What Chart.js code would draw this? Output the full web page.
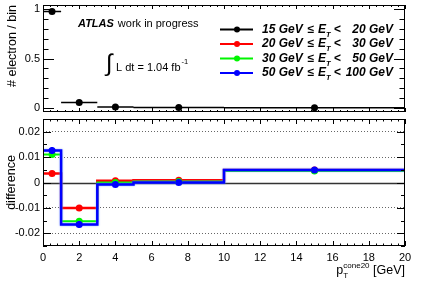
<!DOCTYPE html>
<html>
<head>
<meta charset="utf-8">
<title>isolation p_T^cone20 per E_T bin</title>
<script src="https://cdn.jsdelivr.net/npm/chart.js@4.4.1/dist/chart.umd.min.js"></script>
<style>
  body { margin: 0; background: #fff; }
  #wrap { position: relative; width: 427px; height: 290px; }
  canvas { position: absolute; left: 0; }
  #topChart { top: 0; }
  #bottomChart { top: 115px; }
</style>
</head>
<body>
<div id="wrap">
  <canvas id="topChart" width="427" height="116"></canvas>
  <canvas id="bottomChart" width="427" height="175"></canvas>
</div>

<script>
const FONT = "'Liberation Sans', Arial, Helvetica, sans-serif";

// p_T^cone20 bins [GeV]
const binEdges = [0, 1, 3, 5, 10, 20];
const binCenters = [0.5, 2, 4, 7.5, 15];

// top pad: # electron / bin for 15 <= E_T < 20 GeV
const frac15 = [0.975, 0.056, 0.010, 0.005, 0.003];

// bottom pad: difference with respect to the 15-20 GeV bin
const diff20 = [0.0035, -0.0100, 0.0007, 0.0009, 0.0049];
const diff30 = [0.0110, -0.0153, 0.0000, 0.0004, 0.0045];
const diff50 = [0.0126, -0.0165, -0.0008, 0.0000, 0.0049];
const err20 = [0.0010, 0.0010, 0.0004, 0.0003, 0.0002];
const err30 = [0.0010, 0.0012, 0.0004, 0.0003, 0.0002];
const err50 = [0.0014, 0.0013, 0.0004, 0.0003, 0.0002];

// axis labels
const xTicks = [0, 2, 4, 6, 8, 10, 12, 14, 16, 18, 20];
const yTopTicks = [0, 0.5, 1];
const yBottomTicks = [-0.02, -0.01, 0, 0.01, 0.02];

// legend entries: "<from> <= E_T < <to>"
const legendFrom = ['15 GeV', '20 GeV', '30 GeV', '50 GeV'];
const legendTo = ['20 GeV', '30 GeV', '50 GeV', '100 GeV'];

const COLORS = ['#000000', 'rgb(255,0,0)', 'rgb(0,245,0)', 'rgb(0,0,255)'];

// ---- helpers turning bin values into point lists ----
function histSteps(vals) {
  const pts = vals.map((v, i) => ({x: binEdges[i], y: v}));
  pts.push({x: binEdges[binEdges.length - 1], y: vals[vals.length - 1]});
  return pts;
}
function xBars(vals) {
  const pts = [];
  vals.forEach((v, i) => {
    pts.push({x: binEdges[i], y: v}, {x: binEdges[i + 1], y: v}, {x: binEdges[i + 1], y: null});
  });
  return pts;
}
function yBars(vals, errs) {
  const pts = [];
  vals.forEach((v, i) => {
    pts.push({x: binCenters[i], y: v - errs[i]}, {x: binCenters[i], y: v + errs[i]}, {x: binCenters[i], y: null});
  });
  return pts;
}
function markers(vals) {
  return vals.map((v, i) => ({x: binCenters[i], y: v}));
}

// ROOT like frame with inner ticks on all four sides
function drawTicks(ctx, scale, a, t, horizontal) {
  const k0 = Math.ceil(scale.min / t.minor - 1e-6);
  const k1 = Math.floor(scale.max / t.minor + 1e-6);
  for (let k = k0; k <= k1; k++) {
    const v = k * t.minor;
    const r = v / t.major;
    const len = Math.abs(r - Math.round(r)) < 1e-6 ? t.majLen : t.minLen;
    const p = Math.round(scale.getPixelForValue(v)) + 0.5;
    if (horizontal) {
      ctx.moveTo(p, a.bottom); ctx.lineTo(p, a.bottom - len);
      ctx.moveTo(p, a.top); ctx.lineTo(p, a.top + len);
    } else {
      ctx.moveTo(a.left, p); ctx.lineTo(a.left + len, p);
      ctx.moveTo(a.right, p); ctx.lineTo(a.right - len, p);
    }
  }
}

const rootFrame = {
  id: 'rootFrame',
  beforeDatasetsDraw(chart, args, opts) {
    if (!opts.zeroLine) return;
    const {ctx, chartArea: a, scales: {y}} = chart;
    const py = Math.round(y.getPixelForValue(0)) + 0.5;
    ctx.save();
    ctx.strokeStyle = '#333';
    ctx.lineWidth = 1.5;
    ctx.beginPath();
    ctx.moveTo(a.left, py); ctx.lineTo(a.right, py);
    ctx.stroke();
    ctx.restore();
  },
  beforeDatasetDraw(chart, args) {
    const ds = chart.data.datasets[args.index];
    if (ds.halo) {
      chart.ctx.save();
      chart.ctx.shadowColor = 'rgba(120,160,255,0.9)';
      chart.ctx.shadowBlur = 2;
    }
  },
  afterDatasetDraw(chart, args) {
    if (chart.data.datasets[args.index].halo) chart.ctx.restore();
  },
  afterDraw(chart, args, opts) {
    const {ctx, chartArea: a, scales: {x, y}} = chart;
    ctx.save();
    ctx.strokeStyle = '#000';
    ctx.lineWidth = 1;
    ctx.strokeRect(a.left + 0.5, a.top + 0.5, a.right - a.left - 1, a.bottom - a.top - 1);
    ctx.beginPath();
    drawTicks(ctx, x, a, opts.xt, true);
    drawTicks(ctx, y, a, opts.yt, false);
    ctx.stroke();
    ctx.restore();
  }
};

// texts of the top pad: ATLAS label, luminosity, legend
const topTexts = {
  id: 'topTexts',
  afterDraw(chart) {
    const ctx = chart.ctx;
    ctx.save();
    ctx.fillStyle = '#000';
    ctx.textBaseline = 'alphabetic';
    ctx.font = `italic bold 11px ${FONT}`;
    ctx.fillText('ATLAS', 78, 27);
    const w = ctx.measureText('ATLAS').width;
    ctx.font = `11px ${FONT}`;
    ctx.fillText('work in progress', 78 + w + 4, 27);

    ctx.font = `24px ${FONT}`;
    ctx.fillText('\u222B', 106, 71);
    ctx.font = `11px ${FONT}`;
    ctx.fillText('L dt = 1.04 fb', 116, 71);
    const w2 = ctx.measureText('L dt = 1.04 fb').width;
    ctx.font = `7.5px ${FONT}`;
    ctx.fillText('-1', 116 + w2 + 1, 64);

    // legend
    const y0 = 29.5, dy = 14.5;
    legendFrom.forEach((from, i) => {
      const yy = y0 + i * dy;
      ctx.strokeStyle = COLORS[i];
      ctx.fillStyle = COLORS[i];
      ctx.lineWidth = 2;
      ctx.beginPath();
      ctx.moveTo(220, yy); ctx.lineTo(253, yy);
      ctx.stroke();
      ctx.beginPath();
      ctx.arc(237, yy, 3, 0, Math.PI * 2);
      ctx.fill();

      ctx.fillStyle = '#000';
      ctx.textBaseline = 'middle';
      ctx.textAlign = 'left';
      ctx.font = `italic bold 12px ${FONT}`;
      let tx = 262;
      ctx.fillText(from, tx, yy);
      tx += ctx.measureText(from + ' ').width + 1;
      ctx.fillText('\u2264', tx, yy);
      tx += ctx.measureText('\u2264 ').width + 1;
      ctx.fillText('E', tx, yy);
      tx += ctx.measureText('E').width;
      ctx.font = `italic bold 7.5px ${FONT}`;
      ctx.fillText('T', tx, yy + 5);
      tx += ctx.measureText('T').width;
      ctx.font = `italic bold 12px ${FONT}`;
      ctx.fillText(' <', tx, yy);
      ctx.textAlign = 'right';
      ctx.fillText(legendTo[i], 393, yy);
    });
    ctx.restore();
  }
};

// x axis title of the bottom pad: p_T^cone20 [GeV]
const xTitle = {
  id: 'xTitle',
  afterDraw(chart) {
    const {ctx, chartArea: a} = chart;
    ctx.save();
    ctx.fillStyle = '#000';
    ctx.textBaseline = 'alphabetic';
    ctx.font = `12.5px ${FONT}`;
    const wEnd = ctx.measureText(' [GeV]').width;
    const wP = ctx.measureText('p').width;
    ctx.font = `8px ${FONT}`;
    const wSup = ctx.measureText('cone20').width;
    const by = 159;
    let tx = a.right - wEnd - wSup - wP;
    ctx.font = `12.5px ${FONT}`;
    ctx.fillText('p', tx, by);
    tx += wP;
    ctx.font = `8px ${FONT}`;
    ctx.fillText('cone20', tx, by - 6);
    ctx.fillText('T', tx, by + 4);
    tx += wSup;
    ctx.font = `12.5px ${FONT}`;
    ctx.fillText(' [GeV]', tx, by);
    ctx.restore();
  }
};

function fixY(s) { s.width = 43; s.paddingTop = 0; s.paddingBottom = 0; }
function fixX(h) { return s => { s.height = h; s.paddingLeft = 0; s.paddingRight = 0; }; }
const tickFont = {family: FONT, size: 11};

// ---- top pad ----
new Chart(document.getElementById('topChart'), {
  type: 'line',
  data: {
    datasets: [
      {data: markers(frac15), showLine: false, pointRadius: 3.5, pointBackgroundColor: COLORS[0],
       pointBorderWidth: 0, order: 0},
      {data: xBars(frac15), borderColor: COLORS[0], borderWidth: 1.5, pointRadius: 0, order: 1}
    ]
  },
  options: {
    responsive: false,
    animation: false,
    layout: {padding: {left: 0, right: 22, top: 5, bottom: 1}},
    plugins: {
      legend: {display: false},
      tooltip: {enabled: false},
      rootFrame: {xt: {major: 2, minor: 0.4, majLen: 4, minLen: 2},
                  yt: {major: 0.5, minor: 0.1, majLen: 11, minLen: 5.5}}
    },
    scales: {
      x: {type: 'linear', min: 0, max: 20, display: false},
      y: {
        type: 'linear', min: -0.04, max: 1.04,
        afterBuildTicks: s => { s.ticks = yTopTicks.map(v => ({value: v})); },
        afterFit: fixY,
        grid: {display: false, drawTicks: false},
        border: {display: false},
        ticks: {font: tickFont, color: '#000', padding: 3, callback: v => String(v)},
        title: {display: true, text: '# electron / bin', align: 'end', color: '#000',
                font: {family: FONT, size: 12.5}, padding: {top: 5, bottom: 4}}
      }
    }
  },
  plugins: [rootFrame, topTexts]
});

// ---- bottom pad ----
new Chart(document.getElementById('bottomChart'), {
  type: 'line',
  data: {
    datasets: [
      {data: markers(diff50), showLine: false, pointRadius: 3.5, pointBackgroundColor: COLORS[3], pointBorderWidth: 0, order: 0},
      {data: yBars(diff50, err50), borderColor: COLORS[3], borderWidth: 2, pointRadius: 0, order: 1},
      {data: markers(diff30), showLine: false, pointRadius: 3.5, pointBackgroundColor: COLORS[2], pointBorderWidth: 0, order: 2},
      {data: yBars(diff30, err30), borderColor: COLORS[2], borderWidth: 2, pointRadius: 0, order: 3},
      {data: markers(diff20), showLine: false, pointRadius: 3.5, pointBackgroundColor: COLORS[1], pointBorderWidth: 0, order: 4},
      {data: yBars(diff20, err20), borderColor: COLORS[1], borderWidth: 2, pointRadius: 0, order: 5},
      {data: histSteps(diff50), stepped: 'before', borderColor: COLORS[3], borderWidth: 2.5, pointRadius: 0, order: 6, halo: true},
      {data: histSteps(diff30), stepped: 'before', borderColor: COLORS[2], borderWidth: 2, pointRadius: 0, order: 7},
      {data: histSteps(diff20), stepped: 'before', borderColor: COLORS[1], borderWidth: 2.5, pointRadius: 0, order: 8}
    ]
  },
  options: {
    responsive: false,
    animation: false,
    layout: {padding: {left: 0, right: 22, top: 1, bottom: 0}},
    plugins: {
      legend: {display: false},
      tooltip: {enabled: false},
      rootFrame: {zeroLine: true,
                  xt: {major: 2, minor: 0.4, majLen: 5, minLen: 2.5},
                  yt: {major: 0.01, minor: 0.005, majLen: 8, minLen: 4}}
    },
    scales: {
      x: {
        type: 'linear', min: 0, max: 20,
        afterBuildTicks: s => { s.ticks = xTicks.map(v => ({value: v})); },
        afterFit: fixX(44),
        grid: {display: false, drawTicks: false},
        border: {display: false},
        ticks: {font: tickFont, color: '#000', padding: 5, maxRotation: 0, callback: v => String(v)}
      },
      y: {
        type: 'linear', min: -0.025, max: 0.025,
        afterBuildTicks: s => { s.ticks = yBottomTicks.map(v => ({value: v})); },
        afterFit: fixY,
        grid: {drawTicks: false, lineWidth: 1,
               color: c => (c.tick && c.tick.value === 0) ? 'rgba(0,0,0,0)' : 'rgba(0,0,0,0.6)'},
        border: {display: false, dash: [1, 2]},
        ticks: {font: tickFont, color: '#000', padding: 3, callback: v => String(v)},
        title: {display: true, text: 'difference', align: 'center', color: '#000',
                font: {family: FONT, size: 12.5}, padding: {top: 4, bottom: 4}}
      }
    }
  },
  plugins: [rootFrame, xTitle]
});
</script>
</body>
</html>
